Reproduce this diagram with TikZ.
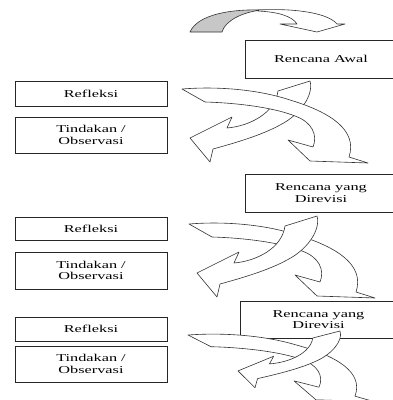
\documentclass[tikz,border=0pt]{standalone}
\usepackage{fontspec}
\setmainfont{Liberation Serif}[FakeStretch=1.55]
\newcommand{\pathA}{(182,89) .. controls (220,86) and (260,90) .. (290,100) .. controls (330,112) and (358,130) .. (349,157) -- (368,163) -- (310,161) -- (288,140) -- (313,147) .. controls (318,135) and (312,122) .. (295,116) .. controls (275,108) and (240,103) .. (205,102) -- cycle}
\newcommand{\pathB}{(310,81) .. controls (314,95) and (300,115) .. (280,125) .. controls (262,135) and (235,143) .. (213,149) -- (210,162) -- (190,138) -- (232,117) -- (227,128) .. controls (250,126) and (275,113) .. (278,91) -- cycle}
\begin{document}
\begin{tikzpicture}[x=1pt,y=-1pt,
  box/.style={draw=black!85, line width=0.6pt, inner sep=0pt, align=center, fill=white,
    font=\fontsize{10.5}{11.7}\selectfont},
  lbox/.style={box, minimum width=152, minimum height=25},
  tbox/.style={box, minimum width=152, minimum height=36},
  rbox/.style={box, minimum width=152, minimum height=38},
  arr/.style={fill=white, draw=black!80, line width=0.6pt, line join=round}]
\useasboundingbox (0,0) rectangle (392,400);
\fill[white] (0,0) rectangle (392,400);
% boxes
\node[rbox] (ra) at (321,59) {Rencana Awal};
\node[rbox] (rd1) at (321,193) {Rencana yang\\Direvisi};
\node[rbox, minimum width=157, minimum height=37] (rd2) at (318.5,319.5) {Rencana yang\\Direvisi};
\node[lbox] (ref1) at (91,93.5) {Refleksi};
\node[tbox] (tin1) at (91,135) {Tindakan /\\Observasi};
\node[lbox, minimum height=23] (ref2) at (91,228.5) {Refleksi};
\node[tbox, minimum height=37] (tin2) at (91,270.5) {Tindakan /\\Observasi};
\node[lbox, minimum height=24] (ref3) at (91,329) {Refleksi};
\node[tbox] (tin3) at (91,364) {Tindakan /\\Observasi};
% top arrow
\filldraw[fill=black!22, draw=black!80, line width=0.6pt, line join=round] (190,32) .. controls (198,14) and (232,9) .. (262,10) .. controls (242,12) and (225,21) .. (222,32) -- cycle;
\draw[arr] (258,10) .. controls (295,8) and (328,13) .. (337,24) -- (345,24) -- (317,32) -- (280,24) -- (297,24) .. controls (292,16) and (278,12) .. (258,11) -- cycle;
% group 1
\draw[arr] \pathB;
\draw[arr] \pathA;
% group 2
\begin{scope}[shift={(7,135)}]
\draw[arr] \pathA;
\draw[arr] \pathB;
\end{scope}
% group 3
\begin{scope}[shift={(188,335)}, yscale=0.9, shift={(-182,-89)}]
\draw[arr] \pathA;
\end{scope}
\begin{scope}[shift={(340,331)}, xscale=0.85, yscale=0.7, shift={(-310,-81)}]
\draw[arr] \pathB;
\end{scope}
\end{tikzpicture}
\end{document}
